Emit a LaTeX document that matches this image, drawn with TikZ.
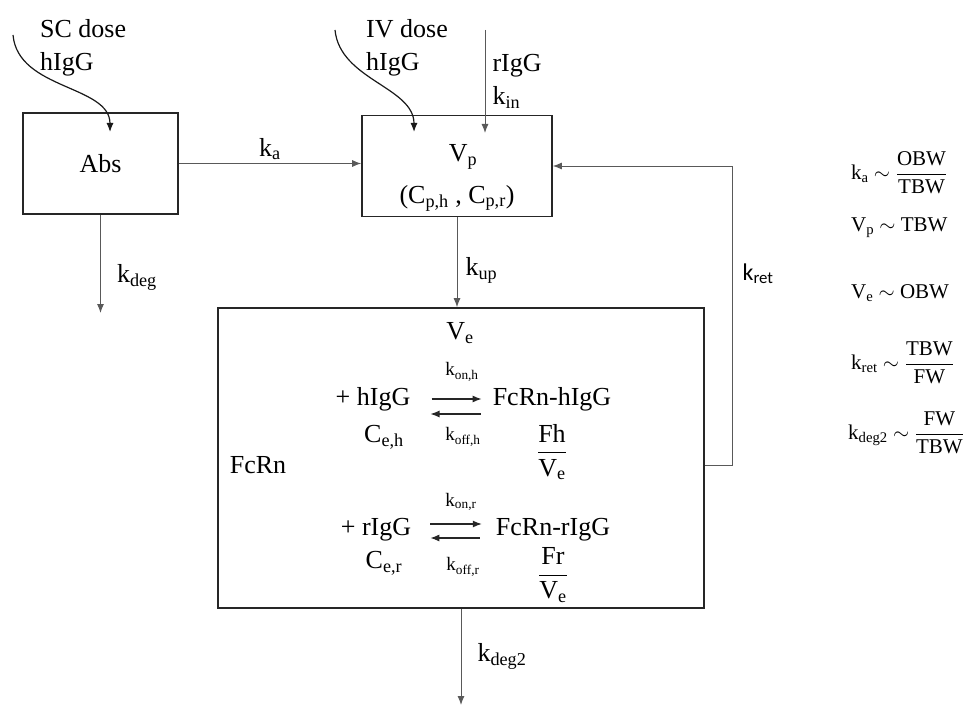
\documentclass[tikz,border=0pt]{standalone}
\usepackage{amsmath}
\usepackage{fontspec}
\setmainfont{Liberation Serif}
\newfontfamily\calfont{Carlito}
\usepackage{tikz}
\usetikzlibrary{arrows.meta,positioning,calc}
\tikzstyle{comp} = [draw=black!85, line width=1.6pt, rectangle, inner sep=0pt]
\tikzstyle{flow} = [draw=black!65, line width=1pt, -{Latex[length=9pt,width=7pt]}]
\tikzstyle{dose} = [draw=black!90, line width=1.2pt, -{Latex[length=9pt,width=7pt]}]
\tikzstyle{react} = [draw=black!85, line width=1.1pt, -{Latex[length=9pt,width=7pt]}]
\tikzstyle{big} = [font=\fontsize{26}{33}\selectfont, inner sep=2pt]
\tikzstyle{small} = [font=\fontsize{19}{23}\selectfont, inner sep=1pt]
\tikzstyle{scaling} = [font=\fontsize{21}{25}\selectfont, inner sep=0pt, anchor=west]
\tikzstyle{input} = [coordinate]

\begin{document}
\begin{tikzpicture}[x=1pt, y=-1pt]
    \useasboundingbox (0,0) rectangle (971,706);
    % Compartments
    \node [comp, minimum width=155pt, minimum height=101pt, big] (abs) at (100.5,163.5) {Abs};
    \node [comp, minimum width=190pt, minimum height=101pt] (vp) at (457,166) {};
    \node [comp, minimum width=486pt, minimum height=300pt] (ve) at (461,458) {};
    \node [big] (vptxt) at (463,157) {V\textsubscript{p}};
    \node [big] (cp) at (457,198) {(C\textsubscript{p,h} , C\textsubscript{p,r})};

    % Doses
    \node [big, align=left, anchor=west] (sc) at (38,48) {SC dose\\hIgG};
    \node [big, align=left, anchor=west] (iv) at (364,48) {IV dose\\hIgG};
    \node [input] (scin) at (13,35) {};
    \node [input] (sctip) at (110,132) {};
    \node [input] (ivin) at (335,30) {};
    \node [input] (ivtip) at (414,132) {};
    \node [input] (rin) at (485,30) {};
    \node [input] (rtip) at (485,133) {};
    \node [input] (absout) at (100.5,313) {};
    \node [input] (veout) at (461,705) {};

    % Endosome
    \node [big] (vetxt) at (460,333) {V\textsubscript{e}};
    \node [big] (fcrn) at (258,465) {FcRn};
    \node [big] (hfree) at (373,399) {+ hIgG};
    \node [big] (hbound) at (552,399) {FcRn-hIgG};
    \node [big] (ceh) at (384,437) {C\textsubscript{e,h}};
    \node [big] (fh) at (552,452) {$\dfrac{\textrm{Fh}}{\textrm{V}_{\textrm{e}}}$};
    \node [small] (konh) at (462,372) {k\textsubscript{on,h}};
    \node [small] (koffh) at (463,437) {k\textsubscript{off,h}};
    \node [big] (rfree) at (376,530) {+ rIgG};
    \node [big] (rbound) at (553,530) {FcRn-rIgG};
    \node [big] (cer) at (384,563) {C\textsubscript{e,r}};
    \node [big] (fr) at (553,575) {$\dfrac{\textrm{Fr}}{\textrm{V}_{\textrm{e}}}$};
    \node [small] (konr) at (461,502) {k\textsubscript{on,r}};
    \node [small] (koffr) at (463,567) {k\textsubscript{off,r}};

    % Scaling
    \node [scaling] (ska) at (851,173) {k\textsubscript{a} $\sim\dfrac{\textrm{OBW}}{\textrm{TBW}}$};
    \node [scaling] (svp) at (851,228) {V\textsubscript{p} $\sim$ TBW};
    \node [scaling] (sve) at (851,293) {V\textsubscript{e} $\sim$ OBW};
    \node [scaling] (skret) at (851,363) {k\textsubscript{ret} $\sim\dfrac{\textrm{TBW}}{\textrm{FW}}$};
    \node [scaling] (skdeg) at (848,433) {k\textsubscript{deg2} $\sim\dfrac{\textrm{FW}}{\textrm{TBW}}$};

    % Connections
    \draw [dose] (scin) .. controls +(5,55) and +(0,-47) .. (sctip);
    \draw [dose] (ivin) .. controls +(5,50) and +(0,-45) .. (ivtip);
    \draw [flow] (rin) -- node [big, right=5pt, align=left] {rIgG\\k\textsubscript{in}} (rtip);
    \draw [flow] (abs) -- node [big, above=1pt] {k\textsubscript{a}} (abs -| vp.west);
    \draw [flow] (abs) -- node [big, right=14pt, pos=0.64] {k\textsubscript{deg}} (absout);
    \draw [flow] (vp) -- node [big, right=6pt, pos=0.59] {k\textsubscript{up}} (vp |- ve.north);
    \draw [flow] ([yshift=-7pt]ve.east) -- ++(28,0) |- node [pos=0.32, right=6pt, font=\calfont\fontsize{24}{28}\selectfont] {k\textsubscript{ret}} (vp.east);
    \draw [flow] (ve) -- node [big, right=14pt] {k\textsubscript{deg2}} (veout);
    \draw [react, shorten <=19pt, shorten >=9pt] (hfree.east) -- (hbound.west);
    \draw [react, shorten <=10pt, shorten >=18pt] ([yshift=-15pt]hbound.west) -- ([yshift=-15pt]hfree.east);
    \draw [react, shorten <=17pt, shorten >=12pt] ([yshift=6pt]rfree.east) -- ([yshift=6pt]rbound.west);
    \draw [react, shorten <=14pt, shorten >=17pt] ([yshift=-8pt]rbound.west) -- ([yshift=-8pt]rfree.east);
\end{tikzpicture}
\end{document}
